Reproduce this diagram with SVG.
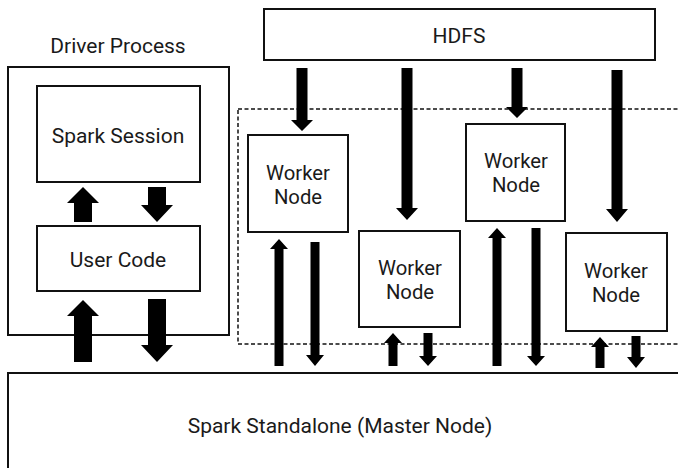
<svg xmlns="http://www.w3.org/2000/svg" width="678" height="468" viewBox="0 0 678 468">
<style>
.box{fill:#fff;stroke:#111;stroke-width:2}
.frame{fill:none;stroke:#111;stroke-width:2}
.dash{fill:none;stroke:#111;stroke-width:1.5;stroke-dasharray:4 2.5}
.t{font-family:Roboto,"Noto Sans",sans-serif;font-size:21px;fill:#1a1a1a;text-anchor:middle}
.w{font-size:20.3px}
.arr{fill:#000}
</style>
<rect width="678" height="468" fill="#fff"/>
<g id="driver-process">
<rect class="frame" x="8" y="67" width="221" height="268"/>
<text class="t" x="118" y="53">Driver Process</text>
</g>
<g id="worker-area">
<rect class="dash" x="238" y="109" width="450" height="235"/>
</g>
<g id="spark-session">
<rect class="box" x="37" y="86" width="163" height="96"/>
<text class="t" x="118" y="143">Spark Session</text>
</g>
<g id="user-code">
<rect class="box" x="37" y="226" width="163" height="65"/>
<text class="t" x="118" y="267">User Code</text>
</g>
<g id="hdfs">
<rect class="box" x="264" y="9" width="391" height="51"/>
<text class="t" x="459" y="43">HDFS</text>
</g>
<g id="worker-node-1">
<rect class="box" x="248" y="135" width="100" height="97"/>
<text class="t w" x="298" y="180">Worker</text>
<text class="t w" x="298" y="204">Node</text>
</g>
<g id="worker-node-2">
<rect class="box" x="359" y="231" width="101" height="96"/>
<text class="t w" x="410" y="275">Worker</text>
<text class="t w" x="410" y="299">Node</text>
</g>
<g id="worker-node-3">
<rect class="box" x="466" y="124" width="99" height="97"/>
<text class="t w" x="516" y="168">Worker</text>
<text class="t w" x="516" y="192">Node</text>
</g>
<g id="worker-node-4">
<rect class="box" x="566" y="233" width="101" height="98"/>
<text class="t w" x="616" y="278">Worker</text>
<text class="t w" x="616" y="302">Node</text>
</g>
<g id="master-node">
<rect class="box" x="8" y="373" width="690" height="110"/>
<text class="t" x="340" y="433">Spark Standalone (Master Node)</text>
</g>
<g id="connectors" class="arr">
<polygon points="74,222 92,222 92,203 99,203 83,187 67,203 74,203"/>
<polygon points="148,187 166,187 166,205 173,205 157,222 141,205 148,205"/>
<polygon points="74,362 92,362 92,316 99,316 83,300 67,316 74,316"/>
<polygon points="148,299 166,299 166,345 173,345 157,362 141,345 148,345"/>
<polygon points="296.5,68 307.5,68 307.5,120 313,120 302,131 291,120 296.5,120"/>
<polygon points="401.5,68 412.5,68 412.5,208 418,208 407,220 396,208 401.5,208"/>
<polygon points="511.5,68 522.5,68 522.5,107 528,107 517,118 506,107 511.5,107"/>
<polygon points="611.5,70 622.5,70 622.5,209 628,209 617,222 606,209 611.5,209"/>
<polygon points="274.5,366 283.5,366 283.5,249 288,249 279,239 270,249 274.5,249"/>
<polygon points="310.5,242 319.5,242 319.5,355 324,355 315,366 306,355 310.5,355"/>
<polygon points="388.5,366 397.5,366 397.5,343 402,343 393,333 384,343 388.5,343"/>
<polygon points="423.5,333 432.5,333 432.5,356 437,356 428,366 419,356 423.5,356"/>
<polygon points="492.5,366 501.5,366 501.5,238 506,238 497,228 488,238 492.5,238"/>
<polygon points="531.5,228 540.5,228 540.5,356 545,356 536,366 527,356 531.5,356"/>
<polygon points="595.5,368 604.5,368 604.5,347 609,347 600,337 591,347 595.5,347"/>
<polygon points="631.5,336 640.5,336 640.5,357 645,357 636,368 627,357 631.5,357"/>
</g>
</svg>
